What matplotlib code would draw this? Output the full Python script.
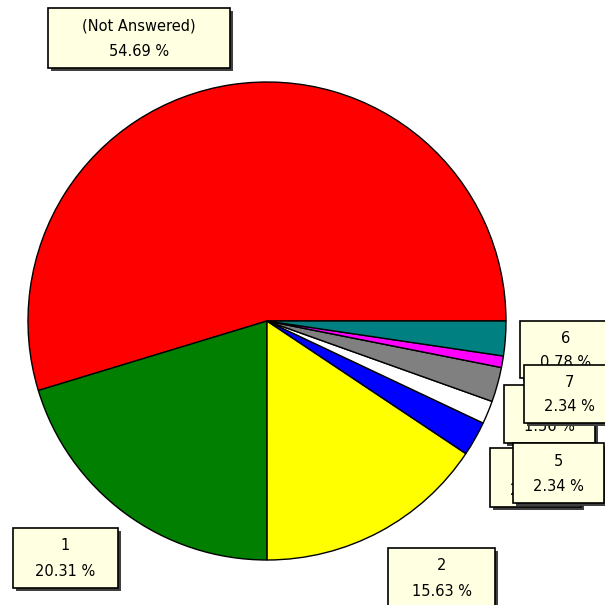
import matplotlib
matplotlib.use("Agg")
import matplotlib.pyplot as plt
from matplotlib.patches import Rectangle

# data
categories = ["(Not Answered)", "1", "2", "3", "4", "5", "6", "7"]
percents = [54.69, 20.31, 15.63, 2.34, 1.56, 2.34, 0.78, 2.34]
colors = ["#ff0000", "#007f00", "#ffff00", "#0000ff", "#ffffff",
          "#808080", "#ff00ff", "#008080"]

# label boxes in pixel coords: (x, y, w, h), drawn in this order
boxes = {
    "(Not Answered)": (48, 8, 182, 60),
    "1": (13, 528, 105, 60),
    "2": (388, 548, 107, 60),
    "3": (490, 448, 91, 59),
    "4": (504, 385, 91, 58),
    "5": (513, 443, 91, 60),
    "6": (520, 321, 91, 57),
    "7": (524, 365, 91, 58),
}

fig = plt.figure(figsize=(6.05, 6.05), dpi=100)
ax = fig.add_axes([0, 0, 1, 1])
ax.set_xlim(0, 605)
ax.set_ylim(605, 0)
ax.set_aspect("equal")
ax.axis("off")

# pie drawn in pixel space; y axis is flipped so go clockwise to look CCW
ax.pie(percents, colors=colors, center=(267, 321), radius=239,
       startangle=0, counterclock=False, frame=True,
       wedgeprops=dict(edgecolor="black", linewidth=1.0))
ax.set_xlim(0, 605)
ax.set_ylim(605, 0)
ax.axis("off")

z = 5
for cat, pct in zip(categories, percents):
    x, y, w, h = boxes[cat]
    ax.add_patch(Rectangle((x + 3, y + 3), w, h, facecolor="#404040",
                           edgecolor="none", zorder=z))
    ax.add_patch(Rectangle((x, y), w, h, facecolor="#ffffe1",
                           edgecolor="black", linewidth=1.2, zorder=z + 1))
    ax.text(x + w / 2, y + h * 0.3, cat, ha="center", va="center",
            fontsize=10.5, color="black", zorder=z + 2)
    ax.text(x + w / 2, y + h * 0.72, f"{pct:.2f} %", ha="center",
            va="center", fontsize=10.5, color="black", zorder=z + 2)
    z += 3

fig.savefig("out.png", dpi=100, facecolor="white")
